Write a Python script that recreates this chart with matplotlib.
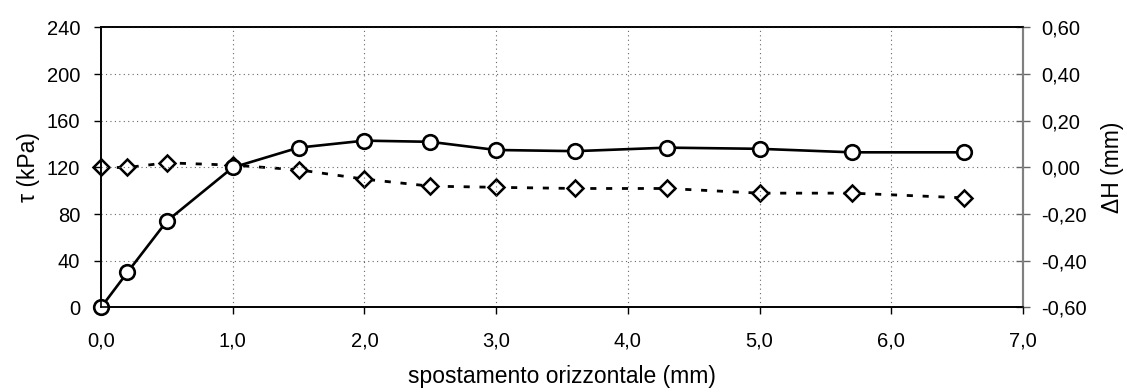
import numpy as np
import matplotlib
matplotlib.use('Agg')
import matplotlib.pyplot as plt

# data
spost = [0.0, 0.2, 0.5, 1.0, 1.5, 2.0, 2.5, 3.0, 3.6, 4.3, 5.0, 5.7, 6.55]
tau = [0, 30, 74, 120, 137, 143, 142, 135, 134, 137, 136, 133, 133]
dH = [0.00, 0.00, 0.02, 0.01, -0.01, -0.05, -0.08, -0.085, -0.09, -0.09, -0.11, -0.11, -0.13]

x_ticks = [0, 1, 2, 3, 4, 5, 6, 7]
x_labels = ['0,0', '1,0', '2,0', '3,0', '4,0', '5,0', '6,0', '7,0']
tau_ticks = [0, 40, 80, 120, 160, 200, 240]
dH_ticks = [-0.6, -0.4, -0.2, 0.0, 0.2, 0.4, 0.6]
dH_labels = ['-0,60', '-0,40', '-0,20', '0,00', '0,20', '0,40', '0,60']

plt.rcParams['font.family'] = ['Liberation Sans', 'DejaVu Sans']

fig = plt.figure(figsize=(11.27, 3.92), dpi=100)
ax = fig.add_axes([0.0896, 0.2156, 0.8181, 0.7143])
ax2 = ax.twinx()

# grid
ax.set_xlim(0, 7)
ax.set_ylim(0, 240)
ax.set_xticks(x_ticks)
ax.set_xticklabels(x_labels)
ax.set_yticks(tau_ticks)
ax.grid(True, linestyle=(0, (1, 3)), color='0.4', linewidth=0.8)

# diamonds (right axis)
ax2.plot(spost, dH, color='k', linestyle=(0, (2.2, 3.5)), linewidth=2.0,
         marker='D', markersize=8.5, markerfacecolor='white',
         markeredgecolor='k', markeredgewidth=1.8, clip_on=False)
ax2.set_ylim(-0.6, 0.6)
ax2.set_yticks(dH_ticks)
ax2.set_yticklabels(dH_labels)

# tau (left axis), drawn on top
ax.set_zorder(ax2.get_zorder() + 1)
ax.patch.set_visible(False)
ax.plot(spost, tau, color='k', linestyle='-', linewidth=1.9,
        marker='o', markersize=10.5, markerfacecolor='white',
        markeredgecolor='k', markeredgewidth=1.9, clip_on=False)

ax.set_xlabel('spostamento orizzontale (mm)', fontsize=16.5, labelpad=11)
ax.set_ylabel('τ (kPa)', fontsize=16.5, labelpad=5)
ax2.set_ylabel('ΔH (mm)', fontsize=16.5, labelpad=10)

ax.tick_params(axis='both', labelsize=14.5, direction='out', length=5, width=1)
ax.tick_params(axis='x', pad=12)
ax.tick_params(axis='y', pad=10)
ax2.tick_params(axis='y', labelsize=14.5, direction='inout', length=10, width=1,
                color='0.4', pad=8)

for a in (ax, ax2):
    for s in ['left', 'bottom', 'top']:
        a.spines[s].set_color('k')
        a.spines[s].set_linewidth(1.2)
    a.spines['right'].set_color('0.5')
    a.spines['right'].set_linewidth(1.5)

plt.savefig('out.png', dpi=100)
